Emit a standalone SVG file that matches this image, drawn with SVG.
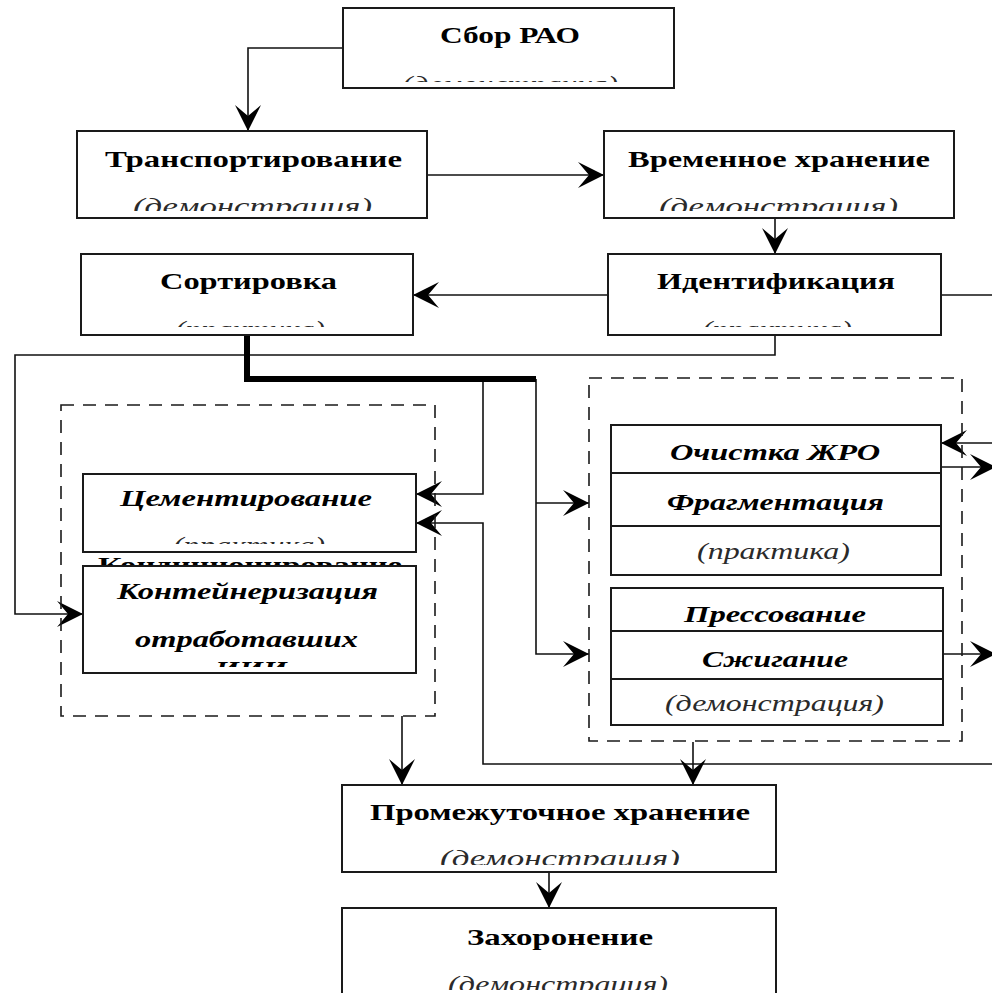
<svg xmlns="http://www.w3.org/2000/svg" width="992" height="993" viewBox="0 0 992 993">
<style>
.box{fill:#fff;stroke:#1a1a1a;stroke-width:2}
.cell{fill:none;stroke:#1a1a1a;stroke-width:2}
.dash{fill:none;stroke:#1a1a1a;stroke-width:1.6;stroke-dasharray:13 9}
.ln{fill:none;stroke:#111;stroke-width:1.6}
.thick{fill:none;stroke:#000;stroke-width:6}
.t{font-family:"Liberation Serif","Times New Roman",serif;font-weight:bold;font-size:24px;fill:#000}
.bi{font-family:"Liberation Serif","Times New Roman",serif;font-weight:bold;font-style:italic;font-size:24px;fill:#000}
.s{font-family:"Liberation Serif","Times New Roman",serif;font-style:italic;font-size:24px;fill:#2a2a2a}
</style>
<defs>
<marker id="ah" markerWidth="28" markerHeight="28" refX="26" refY="13" orient="auto" markerUnits="userSpaceOnUse" overflow="visible">
<path d="M26,13 L0,0 L11,13 L0,26 Z" fill="#000"/>
</marker>
<clipPath id="c-sbor"><rect x="343" y="8" width="331" height="74"/></clipPath>
<clipPath id="c-tr"><rect x="77" y="131" width="350" height="80"/></clipPath>
<clipPath id="c-vr"><rect x="604" y="131" width="350" height="80"/></clipPath>
<clipPath id="c-sort"><rect x="81" y="254" width="332" height="73"/></clipPath>
<clipPath id="c-id"><rect x="608" y="254" width="333" height="73"/></clipPath>
<clipPath id="c-cem"><rect x="83" y="474" width="333" height="70"/></clipPath>
<clipPath id="c-cont"><rect x="83" y="566" width="333" height="101"/></clipPath>
<clipPath id="c-pr"><rect x="342" y="785" width="434" height="80"/></clipPath>
<clipPath id="c-zah"><rect x="342" y="908" width="434" height="82"/></clipPath>
</defs>
<rect width="992" height="993" fill="#fff"/>

<g id="connectors">
<path class="ln" d="M343,48 H248 V131" marker-end="url(#ah)"/>
<path class="ln" d="M427,175 H604" marker-end="url(#ah)"/>
<path class="ln" d="M775,218 V254" marker-end="url(#ah)"/>
<path class="ln" d="M608,295 H413" marker-end="url(#ah)"/>
<path class="ln" d="M941,295 H992"/>
<path class="ln" d="M775,335 V355 H15 V614 H83" marker-end="url(#ah)"/>
<path class="ln" d="M536,379 V654 H589" marker-end="url(#ah)"/>
<path class="ln" d="M536,503 H589" marker-end="url(#ah)"/>
<path class="ln" d="M483,379 V494 H416" marker-end="url(#ah)"/>
<path class="ln" d="M992,764 H483 V523 H416" marker-end="url(#ah)"/>
<path class="ln" d="M992,443 H941" marker-end="url(#ah)"/>
<path class="ln" d="M941,467 H996" marker-end="url(#ah)"/>
<path class="ln" d="M939,654 H996" marker-end="url(#ah)"/>
<path class="ln" d="M402,716 V785" marker-end="url(#ah)"/>
<path class="ln" d="M693,742 V785" marker-end="url(#ah)"/>
<path class="ln" d="M549,872 V908" marker-end="url(#ah)"/>
<path class="thick" d="M247,335 V379 H536"/>
</g>

<g id="sbor">
<rect class="box" x="343" y="8" width="331" height="80"/>
<text class="t" x="510" y="43" text-anchor="middle" textLength="140" lengthAdjust="spacingAndGlyphs">Сбор РАО</text>
<text class="s" x="510" y="92" text-anchor="middle" textLength="216" lengthAdjust="spacingAndGlyphs" clip-path="url(#c-sbor)">(демонстрация)</text>
</g>

<g id="transport">
<rect class="box" x="77" y="131" width="350" height="87"/>
<text class="t" x="253.5" y="167" text-anchor="middle" textLength="297" lengthAdjust="spacingAndGlyphs">Транспортирование</text>
<text class="s" x="252.5" y="214" text-anchor="middle" textLength="239" lengthAdjust="spacingAndGlyphs" clip-path="url(#c-tr)">(демонстрация)</text>
</g>

<g id="vremennoe">
<rect class="box" x="604" y="131" width="350" height="87"/>
<text class="t" x="779" y="167" text-anchor="middle" textLength="302" lengthAdjust="spacingAndGlyphs">Временное хранение</text>
<text class="s" x="778.5" y="214" text-anchor="middle" textLength="239" lengthAdjust="spacingAndGlyphs" clip-path="url(#c-vr)">(демонстрация)</text>
</g>

<g id="sortirovka">
<rect class="box" x="81" y="254" width="332" height="81"/>
<text class="t" x="248.5" y="289" text-anchor="middle" textLength="177" lengthAdjust="spacingAndGlyphs">Сортировка</text>
<text class="s" x="250" y="337" text-anchor="middle" textLength="150" lengthAdjust="spacingAndGlyphs" clip-path="url(#c-sort)">(практика)</text>
</g>

<g id="identifikaciya">
<rect class="box" x="608" y="254" width="333" height="81"/>
<text class="t" x="776" y="289" text-anchor="middle" textLength="238" lengthAdjust="spacingAndGlyphs">Идентификация</text>
<text class="s" x="777" y="337" text-anchor="middle" textLength="150" lengthAdjust="spacingAndGlyphs" clip-path="url(#c-id)">(практика)</text>
</g>

<g id="konditsionirovanie">
<rect class="dash" x="61" y="405" width="374" height="311"/>
<g id="cementirovanie">
<rect class="box" x="83" y="474" width="333" height="78"/>
<text class="bi" x="246" y="506" text-anchor="middle" textLength="252" lengthAdjust="spacingAndGlyphs">Цементирование</text>
<text class="s" x="249" y="553" text-anchor="middle" textLength="152" lengthAdjust="spacingAndGlyphs" clip-path="url(#c-cem)">(практика)</text>
</g>
<text class="t" x="250" y="573" text-anchor="middle" textLength="304" lengthAdjust="spacingAndGlyphs">Кондиционирование</text>
<g id="konteinerizaciya">
<rect class="box" x="83" y="566" width="333" height="107"/>
<text class="bi" x="247.5" y="599" text-anchor="middle" textLength="261" lengthAdjust="spacingAndGlyphs">Контейнеризация</text>
<text class="bi" x="246.5" y="647" text-anchor="middle" textLength="223" lengthAdjust="spacingAndGlyphs">отработавших</text>
<text class="bi" x="251" y="677" text-anchor="middle" textLength="72" lengthAdjust="spacingAndGlyphs" clip-path="url(#c-cont)">ИИИ</text>
</g>
</g>

<g id="pererabotka">
<rect class="dash" x="589" y="378" width="373" height="363"/>
<g id="ochistka">
<rect class="box" x="611" y="425" width="330" height="150"/>
<path class="cell" d="M611,473 H941 M611,526 H941"/>
<text class="bi" x="775" y="460" text-anchor="middle" textLength="210" lengthAdjust="spacingAndGlyphs">Очистка ЖРО</text>
<text class="bi" x="775.5" y="510" text-anchor="middle" textLength="217" lengthAdjust="spacingAndGlyphs">Фрагментация</text>
<text class="s" x="773.5" y="559" text-anchor="middle" textLength="153" lengthAdjust="spacingAndGlyphs">(практика)</text>
</g>
<g id="pressovanie">
<rect class="box" x="611" y="588" width="332" height="137"/>
<path class="cell" d="M611,631 H943 M611,679 H943"/>
<text class="bi" x="775" y="622" text-anchor="middle" textLength="182" lengthAdjust="spacingAndGlyphs">Прессование</text>
<text class="bi" x="775" y="667" text-anchor="middle" textLength="146" lengthAdjust="spacingAndGlyphs">Сжигание</text>
<text class="s" x="774.5" y="711" text-anchor="middle" textLength="219" lengthAdjust="spacingAndGlyphs">(демонстрация)</text>
</g>
</g>

<g id="promezhutochnoe">
<rect class="box" x="342" y="785" width="434" height="87"/>
<text class="t" x="560" y="820" text-anchor="middle" textLength="380" lengthAdjust="spacingAndGlyphs">Промежуточное хранение</text>
<text class="s" x="560" y="866" text-anchor="middle" textLength="240" lengthAdjust="spacingAndGlyphs" clip-path="url(#c-pr)">(демонстрация)</text>
</g>

<g id="zahoronenie">
<rect class="box" x="342" y="908" width="434" height="100"/>
<text class="t" x="560" y="945" text-anchor="middle" textLength="186" lengthAdjust="spacingAndGlyphs">Захоронение</text>
<text class="s" x="558" y="992" text-anchor="middle" textLength="220" lengthAdjust="spacingAndGlyphs" clip-path="url(#c-zah)">(демонстрация)</text>
</g>
</svg>
